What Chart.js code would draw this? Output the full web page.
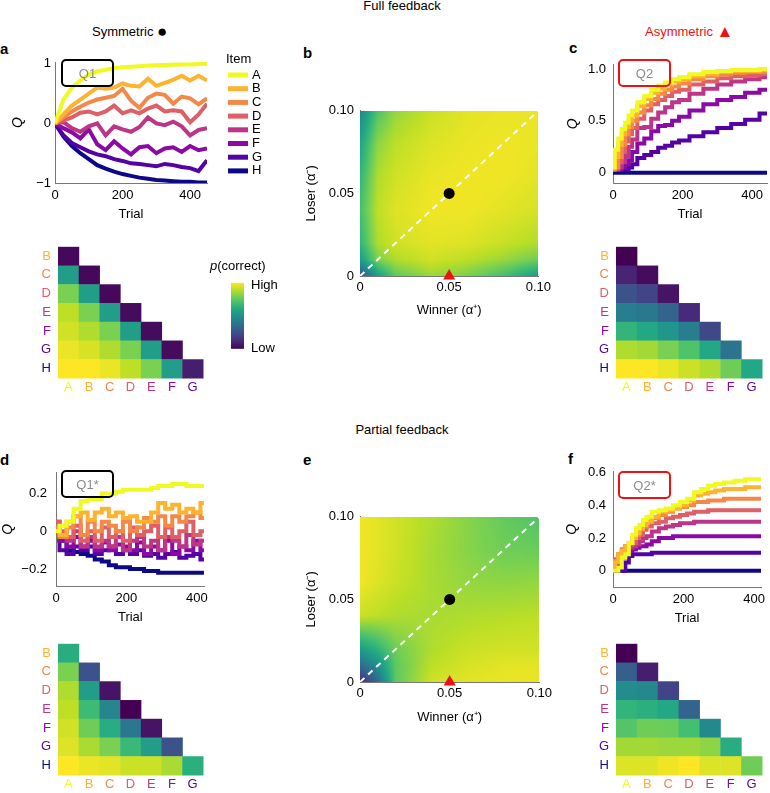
<!DOCTYPE html>
<html>
<head>
<meta charset="utf-8">
<script src="https://cdn.jsdelivr.net/npm/chart.js@4.4.1/dist/chart.umd.min.js"></script>
<style>
  body { margin: 0; background: #fff; }
  #fig { position: relative; width: 770px; height: 793px; overflow: hidden; font-family: "Liberation Sans", Arial, sans-serif; color: #000; }
  #fig canvas { position: absolute; }
  .txt { position: absolute; font-size: 13px; line-height: 1; white-space: nowrap; }
  .lbl { position: absolute; font-size: 15px; font-weight: bold; line-height: 1; }
  .mark { font-size: 17px; vertical-align: -1px; }
  .qbox { position: absolute; box-sizing: border-box; width: 53px; height: 28px; border: 2px solid #000; border-radius: 5px;
          color: #8a8a8a; font-size: 13px; display: flex; align-items: center; justify-content: center; }
  .qbox.red { border-color: #f01010; }
</style>
</head>
<body>
<div id="fig">
  <div class="txt" style="left:0;width:804px;text-align:center;top:-1px">Full feedback</div>
  <div class="txt" style="left:92px;top:23px">Symmetric <span class="mark">●</span></div>
  <div class="txt" style="left:645px;top:23px;color:#ee1111">Asymmetric <span class="mark">▲</span></div>
  <div class="txt" style="left:0;width:804px;text-align:center;top:423px">Partial feedback</div>

  <div class="lbl" style="left:0;top:41px">a</div>
  <div class="lbl" style="left:303px;top:45px">b</div>
  <div class="lbl" style="left:569px;top:40px">c</div>
  <div class="lbl" style="left:0;top:452px">d</div>
  <div class="lbl" style="left:303px;top:452px">e</div>
  <div class="lbl" style="left:568px;top:451px">f</div>

  <canvas id="cA" width="265" height="172" style="left:5px;top:50px"></canvas>
  <canvas id="cB" width="265" height="224" style="left:290px;top:97px"></canvas>
  <canvas id="cC" width="207" height="172" style="left:563px;top:50px"></canvas>
  <canvas id="hA" width="270" height="165" style="left:20px;top:232px"></canvas>
  <canvas id="hC" width="192" height="165" style="left:578px;top:232px"></canvas>
  <canvas id="cD" width="213" height="169" style="left:0px;top:456px"></canvas>
  <canvas id="cE" width="266" height="224" style="left:290px;top:503px"></canvas>
  <canvas id="cF" width="207" height="169" style="left:563px;top:457px"></canvas>
  <canvas id="hD" width="190" height="165" style="left:20px;top:629px"></canvas>
  <canvas id="hF" width="192" height="165" style="left:578px;top:629px"></canvas>

  <div class="qbox" style="left:61px;top:59px">Q1</div>
  <div class="qbox red" style="left:618px;top:59px">Q2</div>
  <div class="qbox" style="left:61px;top:470px">Q1*</div>
  <div class="qbox red" style="left:618px;top:471px">Q2*</div>
</div>

<script>
// items and their colours
const items = ['A', 'B', 'C', 'D', 'E', 'F', 'G', 'H'];
const itemColors = ['#f0f921', '#fdb32f', '#f48849', '#de5f65', '#bc3587', '#8b0aa5', '#5302a3', '#0d0887'];
const rowLabels = ['B', 'C', 'D', 'E', 'F', 'G', 'H'];
const colLabels = ['A', 'B', 'C', 'D', 'E', 'F', 'G'];
const trialTicks = [0, 200, 400];

// a: full feedback, symmetric (Q1)
const trialsFullSym = [0, 25, 50, 75, 100, 125, 150, 175, 200, 225, 250, 275, 300, 325, 350, 375, 400, 425, 450];
const qFullSym = [
  [0, 0.4, 0.6, 0.72, 0.82, 0.87, 0.9, 0.93, 0.94, 0.95, 0.96, 0.97, 0.975, 0.98, 0.985, 0.99, 0.99, 0.995, 1],
  [0, 0.15, 0.3, 0.4, 0.5, 0.6, 0.58, 0.6, 0.67, 0.63, 0.62, 0.75, 0.63, 0.68, 0.73, 0.8, 0.72, 0.8, 0.72],
  [0, 0.1, 0.2, 0.28, 0.35, 0.4, 0.43, 0.46, 0.58, 0.38, 0.26, 0.43, 0.5, 0.48, 0.33, 0.45, 0.42, 0.32, 0.42],
  [0, 0.05, 0.1, 0.18, 0.2, 0.15, 0.2, 0.3, 0.17, 0.22, 0.17, 0.25, 0.3, 0.2, 0.22, 0.2, 0.02, 0.15, 0.33],
  [0, 0.02, -0.08, -0.14, -0.05, 0, -0.2, -0.05, -0.1, -0.14, -0.06, 0.1, 0, -0.03, 0.03, -0.05, -0.2, -0.11, -0.08],
  [0, -0.08, -0.15, -0.25, -0.1, -0.35, -0.45, -0.3, -0.42, -0.52, -0.4, -0.38, -0.5, -0.42, -0.4, -0.48, -0.38, -0.45, -0.42],
  [0, -0.2, -0.33, -0.4, -0.47, -0.52, -0.55, -0.6, -0.63, -0.67, -0.68, -0.7, -0.72, -0.68, -0.7, -0.73, -0.75, -0.8, -0.62],
  [0, -0.22, -0.38, -0.5, -0.6, -0.7, -0.76, -0.81, -0.85, -0.88, -0.91, -0.93, -0.95, -0.96, -0.97, -0.98, -0.98, -0.99, -0.99]
];

// c: full feedback, asymmetric (Q2)
const trialsFullAsym = [0, 10, 20, 30, 40, 50, 60, 80, 100, 120, 140, 160, 180, 200, 240, 280, 320, 360, 400, 443];
const qFullAsym = [
  [0.05, 0.22, 0.33, 0.42, 0.48, 0.55, 0.6, 0.68, 0.74, 0.8, 0.84, 0.87, 0.9, 0.92, 0.95, 0.97, 0.98, 0.99, 0.99, 1],
  [0.05, 0.15, 0.27, 0.37, 0.44, 0.5, 0.55, 0.64, 0.71, 0.77, 0.81, 0.85, 0.88, 0.9, 0.93, 0.95, 0.97, 0.98, 0.98, 0.99],
  [0.03, 0.05, 0.15, 0.27, 0.37, 0.44, 0.5, 0.58, 0.65, 0.71, 0.76, 0.8, 0.83, 0.86, 0.9, 0.93, 0.95, 0.96, 0.97, 0.97],
  [0.03, 0.04, 0.1, 0.2, 0.3, 0.37, 0.43, 0.52, 0.6, 0.66, 0.7, 0.74, 0.78, 0.8, 0.85, 0.88, 0.91, 0.93, 0.94, 0.95],
  [0.03, 0.03, 0.05, 0.1, 0.16, 0.25, 0.32, 0.43, 0.44, 0.52, 0.58, 0.63, 0.68, 0.7, 0.76, 0.81, 0.85, 0.88, 0.9, 0.92],
  [0.03, 0.03, 0.03, 0.05, 0.08, 0.12, 0.2, 0.28, 0.33, 0.4, 0.45, 0.46, 0.5, 0.54, 0.6, 0.66, 0.7, 0.73, 0.77, 0.8],
  [0.03, 0.03, 0.03, 0.03, 0.03, 0.05, 0.08, 0.14, 0.17, 0.2, 0.24, 0.26, 0.29, 0.31, 0.35, 0.39, 0.43, 0.47, 0.51, 0.57],
  [0, 0, 0, 0, 0, 0, 0, 0, 0, 0, 0, 0, 0, 0, 0, 0, 0, 0, 0, 0]
];

// d: partial feedback, symmetric (Q1*)
const trialsPartSym = [0, 20, 40, 60, 80, 100, 120, 140, 160, 180, 200, 220, 240, 260, 280, 300, 320, 340, 360, 380, 400, 420];
const qPartSym = [
  [0, 0.03, 0.05, 0.12, 0.16, 0.17, 0.17, 0.2, 0.2, 0.21, 0.22, 0.22, 0.22, 0.22, 0.23, 0.24, 0.24, 0.25, 0.25, 0.24, 0.24, 0.24],
  [0, -0.02, 0.05, 0.08, 0.1, 0.06, 0.1, 0.12, 0.08, 0.1, 0.07, 0.08, 0.05, 0.05, 0.1, 0.15, 0.12, 0.14, 0.1, 0.12, 0.1, 0.15],
  [0.02, -0.03, 0.02, 0.08, -0.02, 0.05, 0, 0.05, 0.03, 0, 0.05, 0, 0.02, 0.07, 0.05, 0.08, 0.03, 0.08, 0.05, 0.08, 0.1, 0.07],
  [0.05, 0, -0.03, 0.03, -0.05, 0, -0.05, 0.02, -0.03, 0, -0.05, 0.02, -0.02, 0, 0.03, -0.03, 0.02, -0.03, 0, 0.05, -0.02, 0],
  [0.05, -0.03, -0.05, 0, -0.08, -0.03, -0.08, -0.05, -0.08, -0.03, -0.1, -0.05, -0.03, -0.08, -0.05, -0.1, -0.03, -0.05, -0.08, -0.02, -0.07, -0.05],
  [0, -0.05, -0.08, -0.03, -0.08, -0.05, -0.1, -0.06, -0.1, -0.07, -0.08, -0.1, -0.06, -0.12, -0.08, -0.1, -0.05, -0.12, -0.08, -0.1, -0.05, -0.1],
  [0, -0.1, -0.12, -0.08, -0.1, -0.08, -0.12, -0.1, -0.08, -0.12, -0.1, -0.12, -0.1, -0.13, -0.12, -0.14, -0.12, -0.11, -0.14, -0.13, -0.12, -0.15],
  [0, -0.05, -0.1, -0.11, -0.12, -0.13, -0.15, -0.16, -0.18, -0.19, -0.19, -0.2, -0.2, -0.21, -0.21, -0.22, -0.22, -0.22, -0.22, -0.22, -0.22, -0.22]
];

// f: partial feedback, asymmetric (Q2*)
const trialsPartAsym = [0, 10, 20, 30, 40, 50, 60, 70, 80, 90, 100, 120, 140, 160, 180, 200, 220, 240, 260, 280, 300, 330, 360, 390, 420];
const qPartAsym = [
  [0, 0, 0.02, 0.08, 0.1, 0.17, 0.22, 0.26, 0.28, 0.31, 0.33, 0.36, 0.37, 0.38, 0.4, 0.42, 0.44, 0.48, 0.5, 0.52, 0.53, 0.54, 0.55, 0.56, 0.56],
  [0.02, 0.05, 0.1, 0.12, 0.15, 0.17, 0.2, 0.23, 0.26, 0.28, 0.3, 0.33, 0.36, 0.37, 0.38, 0.4, 0.43, 0.46, 0.47, 0.48, 0.49, 0.5, 0.5, 0.51, 0.51],
  [0.03, 0.06, 0.1, 0.13, 0.15, 0.17, 0.2, 0.22, 0.25, 0.27, 0.3, 0.32, 0.34, 0.36, 0.38, 0.39, 0.4, 0.42, 0.42, 0.43, 0.43, 0.44, 0.44, 0.44, 0.44],
  [0.03, 0.07, 0.1, 0.13, 0.15, 0.16, 0.17, 0.2, 0.22, 0.25, 0.27, 0.29, 0.3, 0.32, 0.33, 0.34, 0.35, 0.36, 0.36, 0.37, 0.37, 0.37, 0.37, 0.37, 0.37],
  [0.05, 0.06, 0.08, 0.1, 0.12, 0.14, 0.15, 0.16, 0.18, 0.2, 0.21, 0.24, 0.26, 0.27, 0.28, 0.29, 0.29, 0.3, 0.3, 0.3, 0.3, 0.3, 0.3, 0.3, 0.3],
  [0, 0.03, 0.05, 0.08, 0.1, 0.12, 0.13, 0.14, 0.15, 0.15, 0.16, 0.18, 0.2, 0.2, 0.21, 0.21, 0.21, 0.21, 0.21, 0.21, 0.21, 0.21, 0.21, 0.21, 0.21],
  [0, 0, 0, 0, 0.05, 0.09, 0.1, 0.1, 0.1, 0.1, 0.1, 0.11, 0.11, 0.11, 0.11, 0.11, 0.11, 0.11, 0.11, 0.11, 0.11, 0.11, 0.11, 0.11, 0.11],
  [0, 0, 0, 0, 0, 0, 0, 0, 0, 0, 0, 0, 0, 0, 0, 0, 0, 0, 0, 0, 0, 0, 0, 0, 0]
];

// p(correct) for each pair, rows B..H, columns A..G (0 = low, 1 = high)
const pairFullSym = [
  [0.02],
  [0.55, 0.02],
  [0.8, 0.55, 0.02],
  [0.9, 0.8, 0.55, 0.03],
  [0.93, 0.88, 0.8, 0.55, 0.03],
  [0.97, 0.94, 0.88, 0.8, 0.55, 0.03],
  [1, 1, 0.97, 0.9, 0.8, 0.55, 0.08]
];
const pairFullAsym = [
  [0],
  [0.1, 0.03],
  [0.25, 0.2, 0.05],
  [0.42, 0.4, 0.32, 0.12],
  [0.65, 0.6, 0.52, 0.42, 0.22],
  [0.88, 0.86, 0.8, 0.72, 0.6, 0.38],
  [1, 1, 0.97, 0.92, 0.88, 0.78, 0.6]
];
const pairPartSym = [
  [0.62],
  [0.8, 0.25],
  [0.88, 0.55, 0.05],
  [0.9, 0.68, 0.45, 0],
  [0.93, 0.78, 0.62, 0.4, 0.05],
  [0.95, 0.87, 0.8, 0.67, 0.55, 0.25],
  [1, 0.97, 0.96, 0.92, 0.92, 0.87, 0.63]
];
const pairPartAsym = [
  [0],
  [0.3, 0.08],
  [0.48, 0.47, 0.2],
  [0.65, 0.63, 0.6, 0.32],
  [0.73, 0.78, 0.77, 0.7, 0.47],
  [0.86, 0.86, 0.85, 0.85, 0.83, 0.62],
  [0.95, 0.95, 0.98, 1, 0.95, 0.95, 0.78]
];

// b, e: p(correct) over learning rates; rows = loser rate (ascending), columns = winner rate
const alphaGrid = [0, 0.01, 0.02, 0.04, 0.06, 0.08, 0.1];
const surfaceFull = [
  [0.25, 0.55, 0.75, 0.85, 0.8, 0.7, 0.55],
  [0.55, 0.8, 0.88, 0.93, 0.9, 0.85, 0.78],
  [0.65, 0.88, 0.93, 0.96, 0.95, 0.92, 0.88],
  [0.7, 0.9, 0.95, 0.98, 0.98, 0.96, 0.94],
  [0.65, 0.88, 0.93, 0.97, 0.98, 0.98, 0.96],
  [0.58, 0.83, 0.9, 0.95, 0.97, 0.98, 0.97],
  [0.45, 0.72, 0.84, 0.92, 0.96, 0.97, 0.97]
];
const surfacePartial = [
  [0.1, 0.35, 0.75, 0.93, 0.96, 0.97, 0.97],
  [0.35, 0.5, 0.75, 0.9, 0.94, 0.96, 0.96],
  [0.55, 0.65, 0.78, 0.88, 0.92, 0.93, 0.93],
  [0.92, 0.9, 0.88, 0.87, 0.88, 0.89, 0.9],
  [0.98, 0.95, 0.92, 0.87, 0.84, 0.83, 0.84],
  [0.98, 0.96, 0.93, 0.87, 0.82, 0.78, 0.77],
  [0.98, 0.96, 0.93, 0.88, 0.82, 0.76, 0.72]
];
const alphaTicks = [0, 0.05, 0.1];
const alphaLabels = ['0', '0.05', '0.10'];
const diagX = [0, 0.1];
const diagY = [0, 0.1];
const symmetricPoint = [0.05, 0.05];
const asymmetricPoint = [0.05, 0];

Chart.defaults.font.family = '"Liberation Sans", Arial, sans-serif';
Chart.defaults.color = '#000';

const viridisStops = ['#440154', '#482475', '#414487', '#355f8d', '#2a788e', '#21918c', '#22a884', '#44bf70', '#7ad151', '#bddf26', '#fde725'];
const viridisRgb = viridisStops.map(h => [1, 3, 5].map(k => parseInt(h.slice(k, k + 2), 16)));
function viridisArr(v) {
  v = Math.max(0, Math.min(1, v));
  const p = v * 10, i = Math.min(9, Math.floor(p)), t = p - i;
  const a = viridisRgb[i], b = viridisRgb[i + 1];
  return [0, 1, 2].map(k => Math.round(a[k] + (b[k] - a[k]) * t));
}
function viridis(v) {
  const c = viridisArr(v);
  return 'rgb(' + c.join(',') + ')';
}
const minus = v => (v < 0 ? '\u2212' : '') + Math.abs(v);

function sampleSurface(grid, wv, lv) {
  const seg = v => {
    let i = 0;
    while (i < alphaGrid.length - 2 && v > alphaGrid[i + 1]) i++;
    const t = (v - alphaGrid[i]) / (alphaGrid[i + 1] - alphaGrid[i]);
    return [i, Math.max(0, Math.min(1, t))];
  };
  const [i, tx] = seg(wv), [j, ty] = seg(lv);
  const lo = grid[j][i] * (1 - tx) + grid[j][i + 1] * tx;
  const hi = grid[j + 1][i] * (1 - tx) + grid[j + 1][i + 1] * tx;
  return lo * (1 - ty) + hi * ty;
}

// legend of items drawn to the right of panel a
const itemLegend = {
  id: 'itemLegend',
  afterDraw(chart, args, opts) {
    if (!opts.show) return;
    const ctx = chart.ctx, a = chart.chartArea;
    ctx.save();
    ctx.font = '13px "Liberation Sans", Arial, sans-serif';
    ctx.textBaseline = 'middle';
    ctx.fillStyle = '#000';
    ctx.fillText('Item', a.right + 19, a.top - 3);
    chart.data.datasets.forEach((ds, i) => {
      const y = a.top + 13 + i * 13.7;
      ctx.fillStyle = ds.borderColor;
      ctx.fillRect(a.right + 21, y - 2.5, 20, 5);
      ctx.fillStyle = '#000';
      ctx.fillText(ds.label, a.right + 45, y);
    });
    ctx.restore();
  }
};

// lower-triangle pair matrix
const triCells = {
  id: 'triCells',
  beforeDatasetsDraw(chart, args, opts) {
    const xs = chart.scales.x, ys = chart.scales.y, ctx = chart.ctx;
    const cw = xs.width / colLabels.length, ch = ys.height / rowLabels.length;
    opts.values.forEach((row, r) => row.forEach((v, c) => {
      const cx = xs.getPixelForValue(c), cy = ys.getPixelForValue(r);
      ctx.fillStyle = viridis(v);
      ctx.fillRect(cx - cw / 2, cy - ch / 2, cw + 0.5, ch + 0.5);
    }));
  },
  afterDraw(chart, args, opts) {
    if (!opts.colorbar) return;
    const ctx = chart.ctx, a = chart.chartArea;
    const x = a.right + 28, y = a.top + 36, w = 13, h = 66;
    const g = ctx.createLinearGradient(0, y + h, 0, y);
    viridisStops.forEach((c, i) => g.addColorStop(i / (viridisStops.length - 1), c));
    ctx.save();
    ctx.fillStyle = g;
    ctx.fillRect(x, y, w, h);
    ctx.fillStyle = '#000';
    ctx.textBaseline = 'middle';
    ctx.font = 'italic 13px "Liberation Sans", Arial, sans-serif';
    ctx.fillText('p', a.right + 7, a.top + 20);
    const pw = ctx.measureText('p').width;
    ctx.font = '13px "Liberation Sans", Arial, sans-serif';
    ctx.fillText('(correct)', a.right + 7 + pw, a.top + 20);
    ctx.fillText('High', a.right + 48, a.top + 39);
    ctx.fillText('Low', a.right + 48, a.top + 102);
    ctx.restore();
  }
};

// continuous p(correct) surface for b and e
const surface = {
  id: 'surface',
  beforeDatasetsDraw(chart, args, opts) {
    const a = chart.chartArea, xs = chart.scales.x, ys = chart.scales.y;
    const w = Math.round(a.right - a.left), h = Math.round(a.bottom - a.top);
    const off = document.createElement('canvas');
    off.width = w; off.height = h;
    const octx = off.getContext('2d');
    const img = octx.createImageData(w, h);
    for (let j = 0; j < h; j++) {
      const lv = ys.getValueForPixel(a.top + j + 0.5);
      for (let i = 0; i < w; i++) {
        const wv = xs.getValueForPixel(a.left + i + 0.5);
        const c = viridisArr(sampleSurface(opts.grid, wv, lv));
        const k = (j * w + i) * 4;
        img.data[k] = c[0]; img.data[k + 1] = c[1]; img.data[k + 2] = c[2]; img.data[k + 3] = 255;
      }
    }
    octx.putImageData(img, 0, 0);
    chart.ctx.drawImage(off, a.left, a.top);
  }
};

function fixedTicks(values) {
  return scale => { scale.ticks = values.map(v => ({ value: v })); };
}

function lineChart(id, cfg) {
  return new Chart(document.getElementById(id), {
    type: 'line',
    data: {
      datasets: items.map((name, i) => ({
        label: name,
        data: cfg.trials.map((t, k) => ({ x: t, y: cfg.series[i][k] })),
        borderColor: itemColors[i],
        borderWidth: 4,
        pointRadius: 0,
        stepped: cfg.stepped,
        tension: 0
      }))
    },
    options: {
      animation: false,
      responsive: false,
      layout: { padding: { top: 12, right: cfg.padRight } },
      plugins: { legend: { display: false }, tooltip: { enabled: false }, itemLegend: { show: !!cfg.legend } },
      scales: {
        x: {
          type: 'linear', min: 0, max: cfg.xMax,
          grid: { display: false, drawTicks: false },
          border: { color: '#777' },
          afterBuildTicks: fixedTicks(trialTicks),
          afterFit: s => { s.height = 39; },
          ticks: { padding: 5, font: { size: 13 }, maxRotation: 0, autoSkip: false },
          title: { display: true, text: 'Trial', font: { size: 13 }, padding: { top: 0, bottom: 0 } }
        },
        y: {
          min: cfg.yMin, max: cfg.yMax,
          grid: { display: false, drawTicks: false },
          border: { color: '#777' },
          afterBuildTicks: fixedTicks(cfg.yTicks),
          afterFit: s => { s.width = cfg.yW; },
          ticks: { padding: cfg.yPad, font: { size: 13 }, autoSkip: false, callback: (v, i) => cfg.yLabels[i] },
          title: { display: true, text: 'Q', font: { size: 14, style: 'italic' }, padding: { top: cfg.titlePad, bottom: 0 } }
        }
      }
    },
    plugins: [itemLegend]
  });
}

function pairChart(id, values, cfg) {
  return new Chart(document.getElementById(id), {
    type: 'scatter',
    data: { datasets: [] },
    options: {
      animation: false,
      responsive: false,
      layout: { padding: { top: 8, right: cfg.padRight } },
      plugins: { legend: { display: false }, tooltip: { enabled: false }, triCells: { values: values, colorbar: !!cfg.colorbar } },
      scales: {
        x: {
          type: 'category', labels: colLabels, offset: true,
          grid: { display: false, drawTicks: false }, border: { display: false },
          afterFit: s => { s.height = 19; },
          ticks: { padding: 2, font: { size: 13 }, maxRotation: 0, autoSkip: false, color: c => itemColors[c.index] }
        },
        y: {
          type: 'category', labels: rowLabels, offset: true,
          grid: { display: false, drawTicks: false }, border: { display: false },
          afterFit: s => { s.width = 38; },
          ticks: { padding: 7, font: { size: 13 }, autoSkip: false, color: c => itemColors[c.index + 1] }
        }
      }
    },
    plugins: [triCells]
  });
}

function surfaceChart(id, grid, cfg) {
  return new Chart(document.getElementById(id), {
    type: 'line',
    data: {
      datasets: [
        { data: [{ x: symmetricPoint[0], y: symmetricPoint[1] }], showLine: false,
          pointRadius: 5.5, pointBackgroundColor: '#000', pointBorderWidth: 0 },
        { data: [{ x: asymmetricPoint[0], y: asymmetricPoint[1] }], showLine: false, clip: false,
          pointStyle: 'triangle', pointRadius: 7, pointBackgroundColor: '#ee1111', pointBorderWidth: 0 },
        { data: diagX.map((x, i) => ({ x: x, y: diagY[i] })), borderColor: '#fff', borderWidth: 2,
          borderDash: [6, 5], pointRadius: 0 }
      ]
    },
    options: {
      animation: false,
      responsive: false,
      layout: { padding: { top: 12, right: 16 } },
      plugins: { legend: { display: false }, tooltip: { enabled: false }, surface: { grid: grid } },
      scales: {
        x: {
          type: 'linear', min: 0, max: 0.1, z: 1,
          grid: { display: false, drawTicks: false },
          border: { color: '#777' },
          afterBuildTicks: fixedTicks(alphaTicks),
          afterFit: s => { s.height = 45; },
          ticks: { padding: 4, font: { size: 13 }, maxRotation: 0, autoSkip: false, callback: (v, i) => alphaLabels[i] },
          title: { display: true, text: 'Winner (\u03b1\u207a)', font: { size: 13 }, padding: { top: 0, bottom: cfg.xTitlePad } }
        },
        y: {
          min: 0, max: 0.1, z: 1,
          grid: { display: false, drawTicks: false },
          border: { color: '#777' },
          afterBuildTicks: fixedTicks(alphaTicks),
          afterFit: s => { s.width = 70; },
          ticks: { padding: 6, font: { size: 13 }, autoSkip: false, callback: (v, i) => alphaLabels[i] },
          title: { display: true, text: 'Loser (\u03b1\u207b)', font: { size: 13 }, padding: { top: 14, bottom: 0 } }
        }
      }
    },
    plugins: [surface]
  });
}

lineChart('cA', { trials: trialsFullSym, series: qFullSym, stepped: false, xMax: 450, yMin: -1, yMax: 1.03,
  yTicks: [-1, 0, 1], yLabels: [-1, 0, 1].map(minus), yW: 50, yPad: 4, titlePad: 5, padRight: 63, legend: true });
lineChart('cC', { trials: trialsFullAsym, series: qFullAsym, stepped: 'middle', xMax: 443, yMin: -0.1, yMax: 1.04,
  yTicks: [0, 0.5, 1], yLabels: ['0', '0.5', '1.0'], yW: 50, yPad: 7, titlePad: 2, padRight: 3 });
lineChart('cD', { trials: trialsPartSym, series: qPartSym, stepped: 'middle', xMax: 422, yMin: -0.29, yMax: 0.31,
  yTicks: [-0.2, 0, 0.2], yLabels: [-0.2, 0, 0.2].map(minus), yW: 56, yPad: 9, titlePad: 0, padRight: 5 });
lineChart('cF', { trials: trialsPartAsym, series: qPartAsym, stepped: 'middle', xMax: 420, yMin: -0.1, yMax: 0.605,
  yTicks: [0, 0.2, 0.4, 0.6], yLabels: ['0', '0.2', '0.4', '0.6'], yW: 50, yPad: 7, titlePad: 1, padRight: 3 });

surfaceChart('cB', surfaceFull, { xTitlePad: 3 });
surfaceChart('cE', surfacePartial, { xTitlePad: 2 });

pairChart('hA', pairFullSym, { padRight: 87, colorbar: true });
pairChart('hC', pairFullAsym, { padRight: 8 });
pairChart('hD', pairPartSym, { padRight: 7 });
pairChart('hF', pairPartAsym, { padRight: 8 });
</script>
</body>
</html>
